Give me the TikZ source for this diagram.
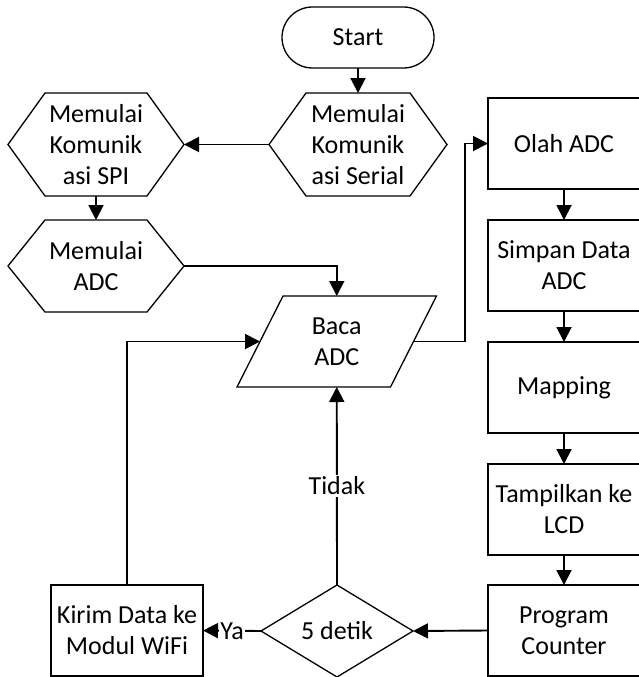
\documentclass[tikz,border=0pt]{standalone}
\usepackage{fontspec}
\setmainfont{Carlito}
\usetikzlibrary{arrows.meta}
\newcommand\hexdraw[2]{\draw[shp] (#1.west) -- ([xshift=#2]#1.north west) -- ([xshift=-#2]#1.north east) -- (#1.east) -- ([xshift=-#2]#1.south east) -- ([xshift=#2]#1.south west) -- cycle;}
\begin{document}
\begin{tikzpicture}[x=1pt,y=-1pt,
  every node/.style={font=\fontsize{26}{31}\selectfont, align=center, inner sep=0pt, outer sep=0pt},
  shp/.style={line width=1.3pt},
  conn/.style={line width=1.9pt, -{Triangle[length=15pt,width=15pt]}},
  box/.style={draw, line width=1.3pt, minimum width=152pt, minimum height=91pt},
  lab/.style={fill=white, inner sep=1.5pt}
]
\useasboundingbox (0,0) rectangle (638,677);
% nodes
\node[draw, shp, rounded corners=30.5pt, minimum width=152pt, minimum height=61pt] (start) at (358,37.5) {Start};
\node[minimum width=178pt, minimum height=103pt] (serial) at (358,144.5) {Memulai\\Komunik\\asi Serial};
\node[minimum width=176pt, minimum height=103pt] (spi) at (96,144.5) {Memulai\\Komunik\\asi SPI};
\node[minimum width=176pt, minimum height=92pt] (adch) at (96,266) {Memulai\\ADC};
\node[minimum width=153.5pt, minimum height=91pt] (baca) at (336.75,341.5) {Baca\\ADC};
\node[box] (olah) at (564,143.5) {Olah ADC};
\node[box] (simpan) at (564,265.5) {Simpan Data\\ADC};
\node[box] (mapping) at (564,387.5) {Mapping};
\node[box] (tampil) at (564,509.5) {Tampilkan ke\\LCD};
\node[box] (pc) at (564,630.5) {Program\\Counter};
\node[minimum width=152pt, minimum height=92pt] (dec) at (337,631) {5 detik};
\node[box] (kirim) at (127,630.5) {Kirim Data ke\\Modul WiFi};
% shapes
\hexdraw{serial}{37pt}
\hexdraw{spi}{37pt}
\hexdraw{adch}{37pt}
\draw[shp] ([xshift=-23pt]baca.south west) -- ([xshift=23pt]baca.north west) -- ([xshift=23pt]baca.north east) -- ([xshift=-23pt]baca.south east) -- cycle;
\draw[shp] (dec.west) -- (dec.north) -- (dec.east) -- (dec.south) -- cycle;
% connectors
\coordinate (j1) at (465,341.5);
\draw[conn] (start.south) -- (serial.north);
\draw[conn] (serial.west) -- (spi.east);
\draw[conn] (spi.south) -- (adch.north);
\draw[conn] (adch.east) -| (baca.north);
\draw[conn] (baca.east) -- (j1) |- (olah.west);
\draw[conn] (olah.south) -- (simpan.north);
\draw[conn] (simpan.south) -- (mapping.north);
\draw[conn] (mapping.south) -- (tampil.north);
\draw[conn] (tampil.south) -- (pc.north);
\draw[conn] (pc.west) -- (dec.east);
\draw[conn] (dec.west) -- node[lab] {Ya} (kirim.east);
\draw[conn] (dec.north) -- node[lab] {Tidak} (baca.south);
\draw[conn] (kirim.north) |- (baca.west);
\end{tikzpicture}
\end{document}
